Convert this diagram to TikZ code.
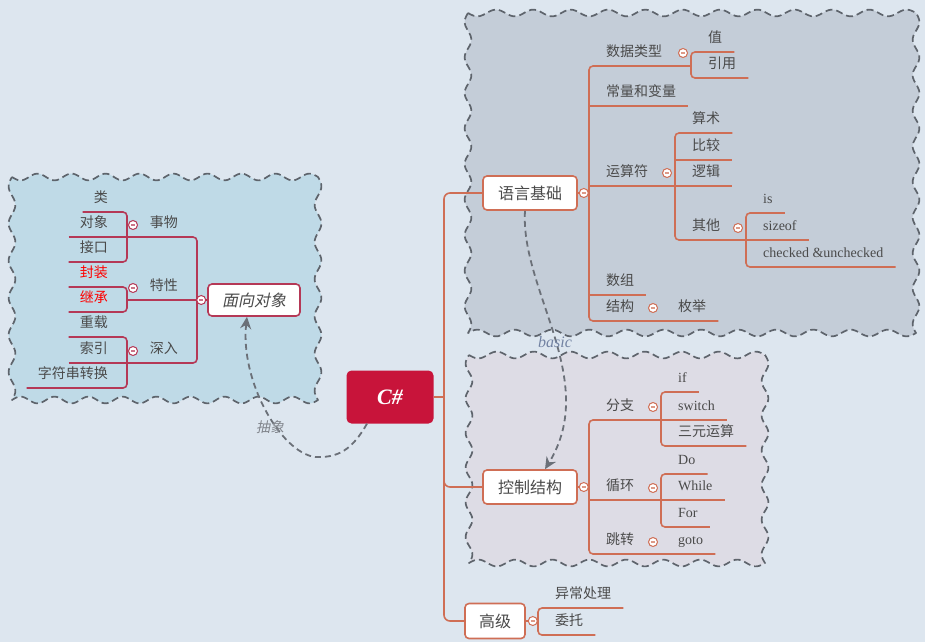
\documentclass[tikz,border=0pt]{standalone}
\usepackage{fontspec}
\setmainfont{Liberation Serif}
\newfontfamily\cjk{Noto Sans CJK SC}
\newfontfamily\cjkit[FakeSlant=0.2]{Noto Sans CJK SC}
\usetikzlibrary{arrows.meta,positioning,calc}
\definecolor{mmBack}{HTML}{DDE6EF}
\definecolor{mmBasic}{HTML}{C4CDD8}
\definecolor{mmOop}{HTML}{BFDAE7}
\definecolor{mmCtrl}{HTML}{DDDCE5}
\definecolor{mmWave}{HTML}{5E646C}
\definecolor{mmRoot}{HTML}{C8143A}
\definecolor{mmRLine}{HTML}{CF6E55}
\definecolor{mmLLine}{HTML}{B53856}
\definecolor{mmText}{HTML}{4A4A4A}
\definecolor{mmLink}{HTML}{6B7078}
\definecolor{mmLabel}{HTML}{7282A2}
% wavy boundary: fill, x1, y1, x2, y2
\newcommand{\mmWaveBox}[5]{%
    \path[mmWavy, fill=#1]
        plot[domain=#2:#4, samples=150] (\x, {#3+3.4*sin((\x-#2)/(#4-#2)*360*round((#4-#2)/36))})
        -- plot[domain=#3:#5, samples=100] ({#4+3.4*sin((\x-#3)/(#5-#3)*360*round((#5-#3)/36))}, \x)
        -- plot[domain=#4:#2, samples=150] (\x, {#5-3.4*sin((\x-#2)/(#4-#2)*360*round((#4-#2)/36))})
        -- plot[domain=#5:#3, samples=100] ({#2-3.4*sin((\x-#3)/(#5-#3)*360*round((#5-#3)/36))}, \x)
        -- cycle;%
}
\tikzset{
    % Boundaries
    mmWavy/.style={
        draw=mmWave,
        dash pattern=on 7pt off 4pt,
        line width=1.7pt,
        line join=round
    },
    % Topics
    mmRootBox/.style={
        rectangle,
        fill=mmRoot,
        rounded corners=5pt,
        minimum width=87pt,
        minimum height=53pt,
        text=white,
        font=\bfseries\itshape\fontsize{22}{24}\selectfont
    },
    mmTopic/.style={
        rectangle,
        draw=#1,
        line width=1.6pt,
        fill=white,
        rounded corners=4pt,
        minimum height=34pt,
        text=mmText,
        font=\cjk\fontsize{16}{18}\selectfont
    },
    % Leaves (text sits on its own underline)
    mmLeafR/.style={
        anchor=south west,
        inner xsep=0pt,
        inner ysep=5pt,
        text height=11pt,
        text depth=4pt,
        text=mmText,
        font=\cjk\fontsize{14}{16}\selectfont,
        execute at begin node={\hspace*{17pt}},
        execute at end node={\hspace*{12pt}}
    },
    mmLeafL/.style={
        anchor=south east,
        inner xsep=0pt,
        inner ysep=5pt,
        text height=11pt,
        text depth=4pt,
        text=mmText,
        font=\cjk\fontsize{14}{16}\selectfont,
        execute at begin node={\hspace*{11pt}},
        execute at end node={\hspace*{19pt}}
    },
    latin/.style={font=\fontsize{14}{16}\selectfont},
    mmFold/.style={
        circle,
        draw=#1,
        fill=white,
        line width=1pt,
        minimum size=9pt,
        inner sep=0pt,
        path picture={\draw[#1!70, line width=1.3pt]
            ([xshift=-2.2pt]path picture bounding box.center) --
            ([xshift=2.2pt]path picture bounding box.center);}
    },
    % Lines
    rLine/.style={draw=mmRLine, line width=1.6pt, rounded corners=4pt},
    lLine/.style={draw=mmLLine, line width=1.6pt, rounded corners=4pt},
    mmRel/.style={draw=mmLink, dash pattern=on 6pt off 4pt, line width=1.8pt, -{Stealth[length=12pt, width=11pt]}},
    mmRelLabel/.style={inner sep=1pt}
}
\begin{document}
\begin{tikzpicture}[x=1pt, y=-1pt]
\useasboundingbox (0,0) rectangle (925,642);
\fill[mmBack] (0,0) rectangle (925,642);

% boundaries
\mmWaveBox{mmOop}{12}{177}{318}{400}
\mmWaveBox{mmBasic}{468}{13}{916}{333}
\mmWaveBox{mmCtrl}{469}{355}{765}{563}

% main topics
\node[mmRootBox] (root) at (390,397) {C\#};
\node[mmTopic=mmRLine, minimum width=94pt] (yuyan) at (530,193) {语言基础};
\node[mmTopic=mmRLine, minimum width=94pt] (kongzhi) at (530,487) {控制结构};
\node[mmTopic=mmRLine, minimum width=60pt, minimum height=35pt] (gaoji) at (495,621) {高级};
\node[mmTopic=mmLLine, minimum width=92pt, minimum height=32pt, font=\cjkit\fontsize{16}{18}\selectfont] (oop) at (254,300) {面向对象};

% basic
\node[mmLeafR] (dtype) at (589,66) {数据类型};
\node[mmLeafR] (const) at (589,106) {常量和变量};
\node[mmLeafR] (oper) at (589,186) {运算符};
\node[mmLeafR] (arr) at (589,295) {数组};
\node[mmLeafR] (struct) at (589,321) {结构};
\node[mmLeafR] (dtVal) at (691,52) {值};
\node[mmLeafR] (dtRef) at (691,78) {引用};
\node[mmLeafR] (opArith) at (675,133) {算术};
\node[mmLeafR] (opCmp) at (675,160) {比较};
\node[mmLeafR] (opLog) at (675,186) {逻辑};
\node[mmLeafR] (opOther) at (675,240) {其他};
\node[mmLeafR, latin] (otIs) at (746,213) {is};
\node[mmLeafR, latin] (otSize) at (746,240) {sizeof};
\node[mmLeafR, latin] (otChk) at (746,267) {checked \&unchecked};
\node[mmLeafR] (stEnum) at (661,321) {枚举};

% control
\node[mmLeafR] (branch) at (589,420) {分支};
\node[mmLeafR] (loop) at (589,500) {循环};
\node[mmLeafR] (jump) at (589,554) {跳转};
\node[mmLeafR, latin] (brIf) at (661,392) {if};
\node[mmLeafR, latin] (brSw) at (661,420) {switch};
\node[mmLeafR] (brTern) at (661,446) {三元运算};
\node[mmLeafR, latin] (lpDo) at (661,474) {Do};
\node[mmLeafR, latin] (lpWh) at (661,500) {While};
\node[mmLeafR, latin] (lpFor) at (661,527) {For};
\node[mmLeafR, latin] (jpGoto) at (661,554) {goto};

% advanced
\node[mmLeafR] (exc) at (538,608) {异常处理};
\node[mmLeafR] (dlg) at (538,635) {委托};

% object oriented
\node[mmLeafL] (shiwu) at (197,237) {事物};
\node[mmLeafL] (texing) at (197,300) {特性};
\node[mmLeafL] (shenru) at (197,363) {深入};
\node[mmLeafL] (lei) at (127,212) {类};
\node[mmLeafL] (duixiang) at (127,237) {对象};
\node[mmLeafL] (jiekou) at (127,262) {接口};
\node[mmLeafL, text=red] (fengzhuang) at (127,287) {封装};
\node[mmLeafL, text=red] (jicheng) at (127,312) {继承};
\node[mmLeafL] (chongzai) at (127,337) {重载};
\node[mmLeafL] (suoyin) at (127,363) {索引};
\node[mmLeafL] (zfc) at (127,388) {字符串转换};

% spine
\coordinate (spine) at (444,397);
\draw[rLine, rounded corners=6pt] (yuyan.west) -| (spine) |- (gaoji.west);
\draw[rLine, rounded corners=6pt] (spine) |- (kongzhi.west);
\draw[rLine] (root.east) -- (spine);

% basic lines
\draw[rLine] (yuyan.east) -- (yuyan.east -| dtype.south west);
\draw[rLine] (dtype.south west -| dtVal.south west) -- (dtype.south west) -- (struct.south west) -- (stEnum.south east);
\draw[rLine] (const.south west) -- (const.south east);
\draw[rLine] (oper.south west) -- (oper.south west -| opArith.south west);
\draw[rLine] (arr.south west) -- (arr.south east);
\draw[rLine] (dtVal.south east) -- (dtVal.south west) -- (dtRef.south west) -- (dtRef.south east);
\draw[rLine] (opArith.south east) -- (opArith.south west) -- (opOther.south west) -- (opOther.south west -| otIs.south west);
\draw[rLine] (opCmp.south west) -- (opCmp.south east);
\draw[rLine] (opLog.south west) -- (opLog.south east);
\draw[rLine] (otIs.south east) -- (otIs.south west) -- (otChk.south west) -- (otChk.south east);
\draw[rLine] (otSize.south west) -- (otSize.south east);

% control lines
\draw[rLine] (kongzhi.east) -- (kongzhi.east -| branch.south west);
\draw[rLine] (branch.south west -| brIf.south west) -- (branch.south west) -- (jump.south west) -- (jpGoto.south east);
\draw[rLine] (loop.south west) -- (loop.south west -| lpDo.south west);
\draw[rLine] (brIf.south east) -- (brIf.south west) -- (brTern.south west) -- (brTern.south east);
\draw[rLine] (brSw.south west) -- (brSw.south east);
\draw[rLine] (lpDo.south east) -- (lpDo.south west) -- (lpFor.south west) -- (lpFor.south east);
\draw[rLine] (lpWh.south west) -- (lpWh.south east);

% advanced lines
\draw[rLine] (gaoji.east) -- (gaoji.east -| exc.south west);
\draw[rLine] (exc.south east) -- (exc.south west) -- (dlg.south west) -- (dlg.south east);

% object oriented lines
\draw[lLine] (oop.west) -- (texing.south west -| lei.south east);
\draw[lLine] (shiwu.south west -| lei.south east) -- (shiwu.south east) -- (shenru.south east) -- (shenru.south west -| lei.south east);
\draw[lLine] (lei.south west) -- (lei.south east) -- (jiekou.south east) -- (jiekou.south west);
\draw[lLine] (duixiang.south west) -- (duixiang.south east);
\draw[lLine] (fengzhuang.south west) -- (fengzhuang.south east) -- (jicheng.south east) -- (jicheng.south west);
\draw[lLine] (chongzai.south west) -- (chongzai.south east) -- (zfc.south east) -- (zfc.south west);
\draw[lLine] (suoyin.south west) -- (suoyin.south east);

% fold marks
\node[mmFold=mmRLine] (yuyanF) at ([xshift=6pt]yuyan.east) {};
\node[mmFold=mmRLine] (kongzhiF) at ([xshift=6pt]kongzhi.east) {};
\node[mmFold=mmRLine] (gaojiF) at ([xshift=7pt]gaoji.east) {};
\node[mmFold=mmRLine] (dtypeF) at ($(dtVal.south west |- dtype.south)+(-8,-13)$) {};
\node[mmFold=mmRLine] (operF) at ($(opArith.south west |- oper.south)+(-8,-13)$) {};
\node[mmFold=mmRLine] (otherF) at ($(otIs.south west |- opOther.south)+(-8,-12)$) {};
\node[mmFold=mmRLine] (structF) at ($(stEnum.south west |- struct.south)+(-8,-13)$) {};
\node[mmFold=mmRLine] (branchF) at ($(brIf.south west |- branch.south)+(-8,-13)$) {};
\node[mmFold=mmRLine] (loopF) at ($(lpDo.south west |- loop.south)+(-8,-12)$) {};
\node[mmFold=mmRLine] (jumpF) at ($(jpGoto.south west |- jump.south)+(-8,-12)$) {};
\node[mmFold=mmLLine] (oopF) at ([xshift=-6pt]oop.west) {};
\node[mmFold=mmLLine] (shiwuF) at ($(lei.south east |- shiwu.south)+(6,-12)$) {};
\node[mmFold=mmLLine] (texingF) at ($(lei.south east |- texing.south)+(6,-12)$) {};
\node[mmFold=mmLLine] (shenruF) at ($(lei.south east |- shenru.south)+(6,-12)$) {};

% relations
\draw[mmRel] ([xshift=-23pt]root.south) .. controls (352,450) and (338,458) .. (315,457)
    .. controls (280,452) and (240,380) .. ([xshift=-7pt]oop.south);
\node[mmRelLabel, text=mmLink!85, font=\cjkit\fontsize{14}{16}\selectfont] (absLbl) at (270,427) {抽象};
\draw[mmRel] ([xshift=-5pt]yuyan.south) .. controls (520,290) and (600,380) .. ([xshift=15pt]kongzhi.north);
\node[mmRelLabel, text=mmLabel, font=\itshape\fontsize{16}{18}\selectfont] (basicLbl) at (555,342) {basic};
\end{tikzpicture}
\end{document}
